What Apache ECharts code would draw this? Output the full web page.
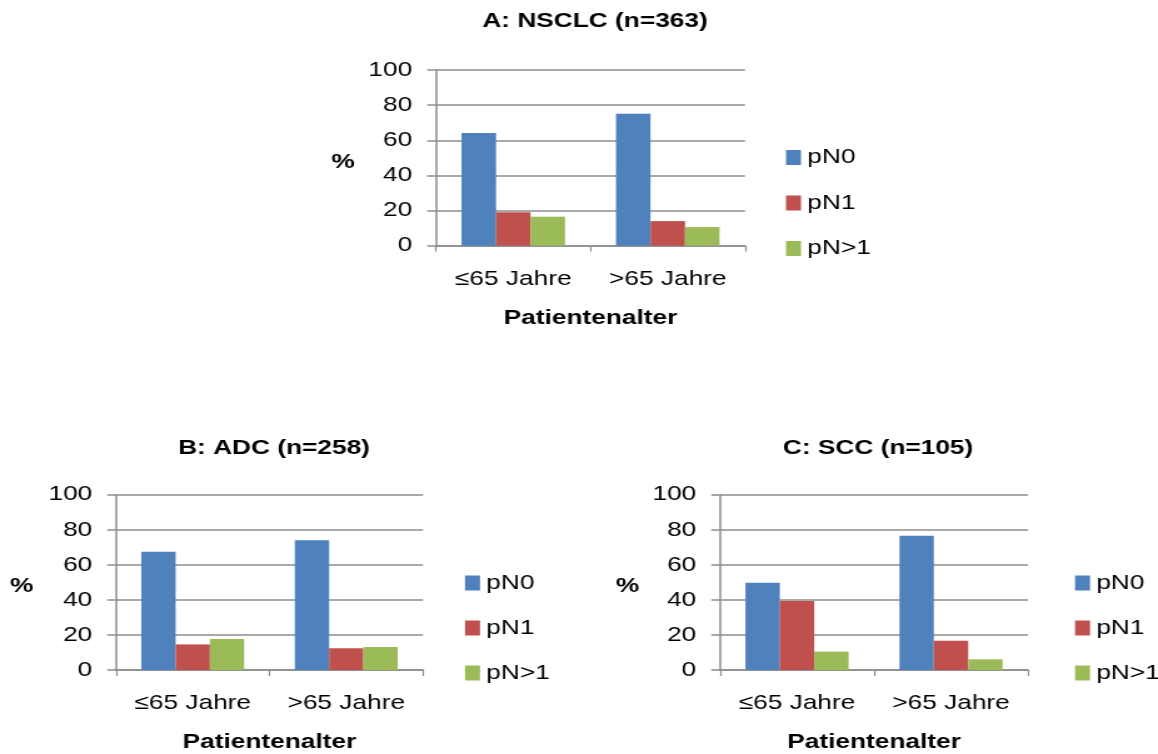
<!DOCTYPE html>
<html>
<head>
<meta charset="utf-8">
<script src="https://cdn.jsdelivr.net/npm/echarts@6/dist/echarts.min.js"></script>
<style>
html,body{margin:0;padding:0;background:#fff;overflow:hidden;}
#chart{width:926px;height:754px;transform:scaleX(1.2505);transform-origin:0 0;}
</style>
</head>
<body>
<div id="chart"></div>
<script>
// ---- data ----
const categories = ['≤65 Jahre', '>65 Jahre'];
const seriesNames = ['pN0', 'pN1', 'pN>1'];
const panelTitles = ['A: NSCLC (n=363)', 'B: ADC (n=258)', 'C: SCC (n=105)'];
const nsclcPN0 = [64.1, 75.1];
const nsclcPN1 = [19.0, 14.0];
const nsclcPNgt1 = [16.5, 10.6];
const adcPN0 = [67.5, 74.0];
const adcPN1 = [14.6, 12.4];
const adcPNgt1 = [17.7, 13.1];
const sccPN0 = [49.8, 76.6];
const sccPN1 = [39.4, 16.7];
const sccPNgt1 = [10.5, 6.1];
const yTicks = [0, 20, 40, 60, 80, 100];
const xAxisName = 'Patientenalter';
const yAxisName = '%';

const panelData = [
  [nsclcPN0, nsclcPN1, nsclcPNgt1],
  [adcPN0, adcPN1, adcPNgt1],
  [sccPN0, sccPN1, sccPNgt1]
];

// ---- layout / style ----
const FONT = "'Liberation Sans', Arial, sans-serif";
const colors = ['#4F81BD', '#C0504D', '#9BBB59'];
const gridColor = '#8c8c8c';
const S = 1.2505; // horizontal stretch applied by CSS
const grids = [
  {left: 436 / S, right: 926 - 745 / S, top: 70, height: 175.7},
  {left: 116 / S, right: 926 - 423 / S, top: 494.7, height: 175.3},
  {left: 720 / S, right: 926 - 1028 / S, top: 494.7, height: 175.3}
];
const titlePos = [[595 / S, 11], [274 / S, 437.5], [878 / S, 437.5]];
const legendPos = [[786 / S, 147, 24.5], [465 / S, 572.5, 24], [1075 / S, 572.5, 24]];
const yNameGap = [65, 66, 64.5];

const option = {
  animation: false,
  color: colors,
  textStyle: {fontFamily: FONT},
  title: panelTitles.map((t, i) => ({
    text: t, left: titlePos[i][0], top: titlePos[i][1], textAlign: 'center', padding: 0,
    textStyle: {fontFamily: FONT, fontSize: 21, fontWeight: 'bold', color: '#000', lineHeight: 21}
  })),
  legend: legendPos.map(p => ({
    data: seriesNames, orient: 'vertical', left: p[0], top: p[1], itemGap: p[2], padding: 0,
    icon: 'rect', itemWidth: 12, itemHeight: 15, itemStyle: {borderWidth: 0},
    textStyle: {fontFamily: FONT, fontSize: 21, color: '#000', lineHeight: 21, padding: [0, 0, 0, 0]}
  })),
  grid: grids.map(g => Object.assign({containLabel: false}, g)),
  xAxis: grids.map((g, i) => ({
    type: 'category', gridIndex: i, data: categories,
    name: xAxisName, nameLocation: 'middle', nameGap: 62,
    nameTextStyle: {fontFamily: FONT, fontSize: 21, fontWeight: 'bold', color: '#000', lineHeight: 21},
    axisLine: {lineStyle: {color: gridColor, width: 1.5}},
    axisTick: {show: true, length: 6, lineStyle: {color: gridColor, width: 1.2}},
    axisLabel: {interval: 0, margin: 23, fontFamily: FONT, fontSize: 21, color: '#000', lineHeight: 21},
    splitLine: {show: false}
  })),
  yAxis: grids.map((g, i) => ({
    type: 'value', gridIndex: i, min: yTicks[0], max: yTicks[yTicks.length - 1], interval: yTicks[1] - yTicks[0],
    name: yAxisName, nameLocation: 'middle', nameRotate: 0, nameGap: yNameGap[i],
    nameTextStyle: {fontFamily: FONT, fontSize: 21, fontWeight: 'bold', color: '#000', verticalAlign: 'top', lineHeight: 8},
    axisLine: {show: true, lineStyle: {color: gridColor, width: 1.5}},
    axisTick: {show: true, length: 7, lineStyle: {color: gridColor, width: 1.5}},
    axisLabel: {margin: 19, fontFamily: FONT, fontSize: 21, color: '#000'},
    splitLine: {show: true, lineStyle: {color: gridColor, width: 1.5}}
  })),
  series: []
};

panelData.forEach((arrs, gi) => {
  arrs.forEach((vals, si) => {
    option.series.push({
      type: 'bar', name: seriesNames[si], xAxisIndex: gi, yAxisIndex: gi,
      data: vals, barGap: '0%', barCategoryGap: '33%',
      itemStyle: {color: colors[si]}
    });
  });
});

const chart = echarts.init(document.getElementById('chart'), null, {renderer: 'canvas'});
chart.setOption(option);
</script>
</body>
</html>
